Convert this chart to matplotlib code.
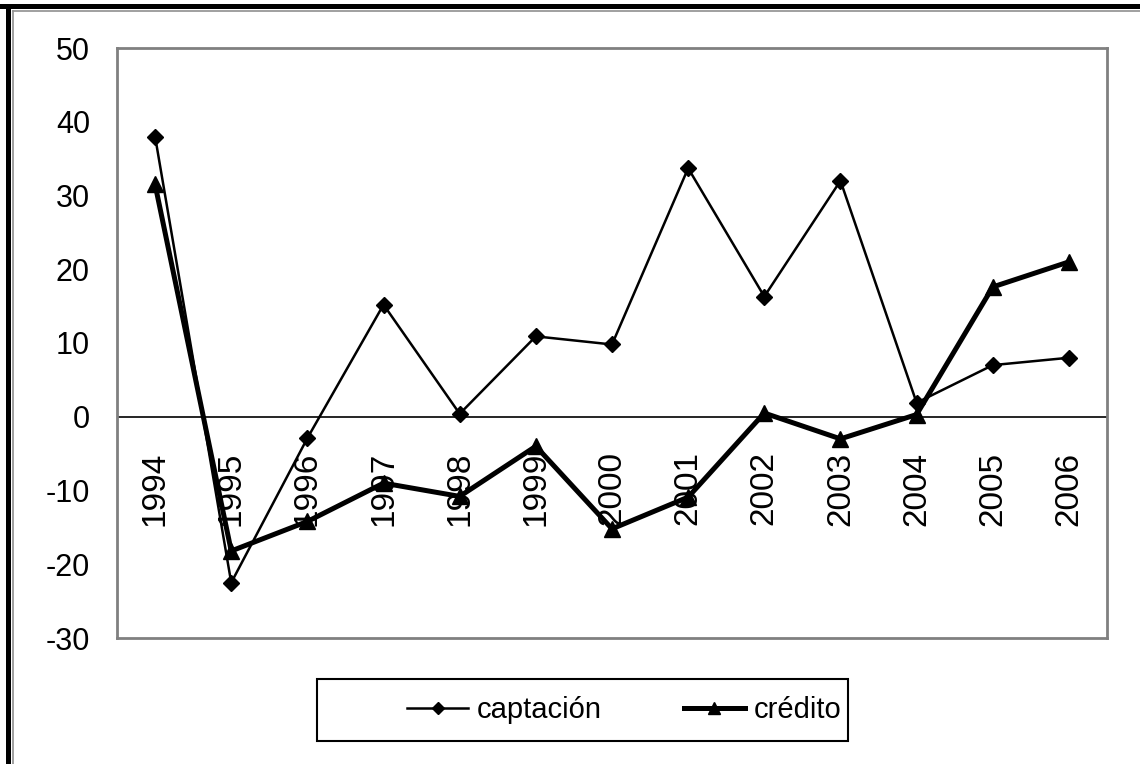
import matplotlib.pyplot as plt
from matplotlib import font_manager
from matplotlib.patches import Rectangle
from matplotlib.lines import Line2D
import numpy as np

# narrow face for the tick and legend text when it is installed
names = {f.name for f in font_manager.fontManager.ttflist}
narrow = 'Liberation Sans Narrow' if 'Liberation Sans Narrow' in names else 'Liberation Sans'
plt.rcParams['font.family'] = [narrow, 'DejaVu Sans']
scale = 1.0 if narrow == 'Liberation Sans' else 1.12

# annual series (percent)
years = ['1994', '1995', '1996', '1997', '1998', '1999', '2000',
         '2001', '2002', '2003', '2004', '2005', '2006']
captacion = [38.0, -22.5, -2.9, 15.2, 0.4, 10.9, 9.8,
             33.7, 16.3, 32.0, 1.9, 7.0, 8.0]
credito = [31.5, -18.2, -14.2, -9.0, -10.8, -4.0, -15.2,
           -10.9, 0.5, -3.0, 0.3, 17.6, 21.0]
y_ticks = [50, 40, 30, 20, 10, 0, -10, -20, -30]

fig = plt.figure(figsize=(11.4, 7.64), dpi=100)
ax = fig.add_axes([117 / 1140, 1 - 638 / 764, 990 / 1140, 590 / 764])

x = np.arange(len(years))
ax.plot(x, captacion, color='black', lw=1.8, marker='D', ms=8,
        label='captación', zorder=3)
ax.plot(x, credito, color='black', lw=3.6, marker='^', ms=11,
        label='crédito', zorder=3)
ax.axhline(0, color='black', lw=1.2, zorder=2)

ax.set_xlim(-0.5, len(years) - 0.5)
ax.set_ylim(-30, 50)
ax.set_yticks(y_ticks)
ax.set_yticklabels([str(t) for t in y_ticks], fontsize=22 * scale)
ax.tick_params(axis='y', length=0, pad=19.5)
ax.set_xticks([])
for s in ax.spines.values():
    s.set_color('#808080')
    s.set_linewidth(2)

# year labels hang below the zero line
for xi, yr in zip(x, years):
    ax.annotate(yr, (xi, 0), xytext=(0, -25), textcoords='offset points',
                rotation=90, ha='center', va='top', fontsize=24,
                family=['Liberation Sans', 'DejaVu Sans'])

leg = fig.legend(loc='center left', bbox_to_anchor=(407 / 1140, 1 - 710 / 764),
                 ncol=2, fontsize=21 * scale, frameon=False,
                 borderpad=0, borderaxespad=0, columnspacing=2.8,
                 handlelength=2.1, handletextpad=0.3, markerscale=0.8)
fig.add_artist(Rectangle((317 / 1140, 1 - 741 / 764), 531 / 1140, 62 / 764,
                         transform=fig.transFigure, fill=False,
                         edgecolor='black', lw=1.5))

# outer frame of the chart object
fig.add_artist(Rectangle((0, 1 - 9 / 764), 1, 5 / 764, transform=fig.transFigure,
                         color='black', lw=0))
fig.add_artist(Rectangle((6 / 1140, 0), 5 / 1140, 1 - 4 / 764,
                         transform=fig.transFigure, color='black', lw=0))
fig.add_artist(Line2D([12.5 / 1140, 1], [1 - 10.5 / 764, 1 - 10.5 / 764],
                      transform=fig.transFigure, color='#909090', lw=1.2))
fig.add_artist(Line2D([12.5 / 1140, 12.5 / 1140], [0, 1 - 10.5 / 764],
                      transform=fig.transFigure, color='#909090', lw=1.2))

# title brackets, clipped by the top edge
fig.text(472 / 1140, 1 + 16 / 764, '(', fontsize=22, ha='center', va='center')
fig.text(682 / 1140, 1 + 16 / 764, ')', fontsize=22, ha='center', va='center')

fig.savefig('out.png', dpi=100)
